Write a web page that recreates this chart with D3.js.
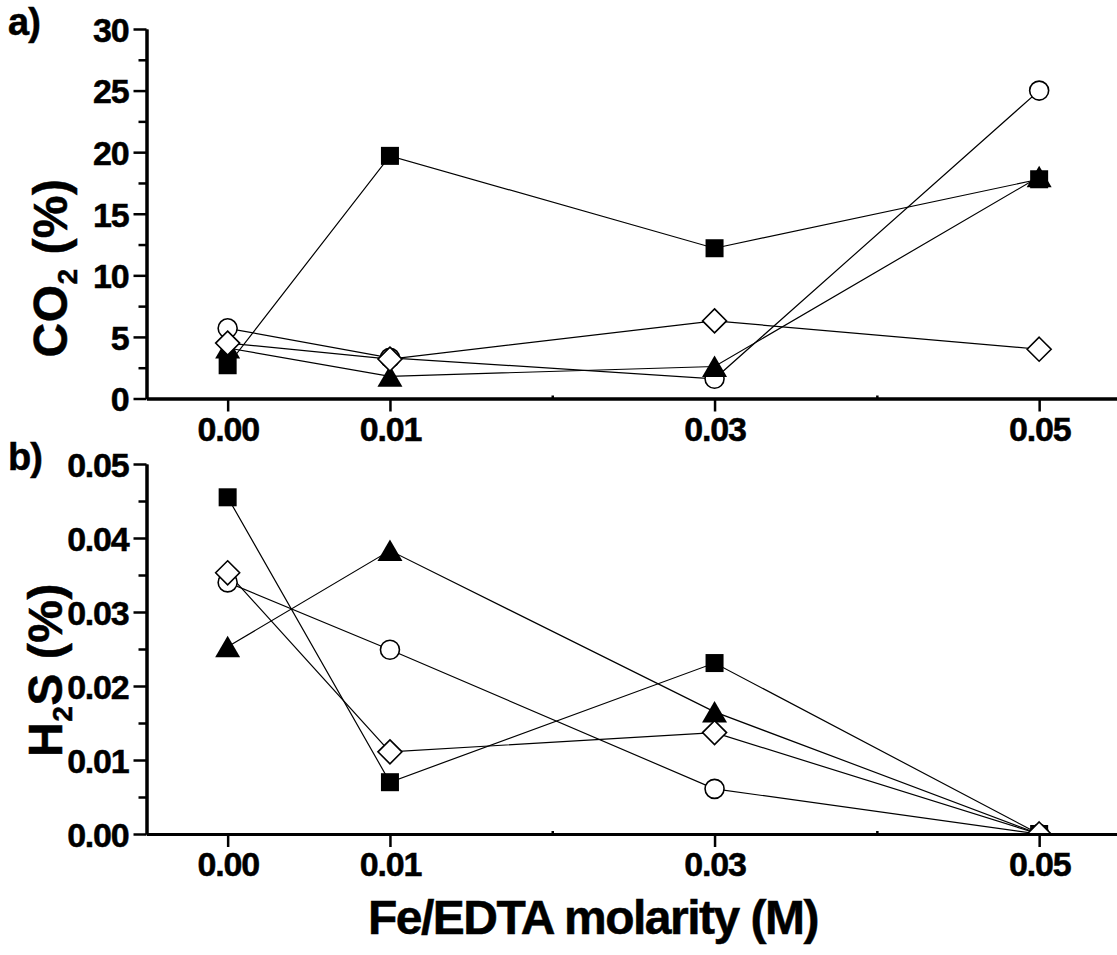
<!DOCTYPE html>
<html>
<head>
<meta charset="utf-8">
<script src="https://cdn.jsdelivr.net/npm/d3@7"></script>
<style>
body { margin: 0; background: #fff; }
text { font-family: "Liberation Sans", Arial, sans-serif; font-weight: bold; fill: #000; stroke: #000; stroke-width: 0.5px; }
</style>
</head>
<body>
<div id="chart-area"></div>
<script>
// x categories (Fe/EDTA molarity, M)
var molarity = [0.00, 0.01, 0.03, 0.05];
var xMinorTicks = [0.02, 0.04];

// panel a) CO2 (%)
var co2Square   = [2.7, 19.7, 12.2, 17.8];
var co2Circle   = [5.7, 3.3, 1.6, 25.0];
var co2Triangle = [4.1, 1.8, 2.6, 18.0];
var co2Diamond  = [4.5, 3.2, 6.3, 4.0];
var co2Ticks      = [0, 5, 10, 15, 20, 25, 30];
var co2MinorTicks = [2.5, 7.5, 12.5, 17.5, 22.5, 27.5];

// panel b) H2S (%)
var h2sSquare   = [0.0455, 0.0070, 0.0231, 0];
var h2sCircle   = [0.0340, 0.0249, 0.0061, 0];
var h2sTriangle = [0.0253, 0.0383, 0.0165, 0];
var h2sDiamond  = [0.0353, 0.0111, 0.0137, 0];
var h2sTicks      = [0, 0.01, 0.02, 0.03, 0.04, 0.05];
var h2sMinorTicks = [0.005, 0.015, 0.025, 0.035, 0.045];

var W = 1117, H = 955;
var left = 146.5;

var svg = d3.select("#chart-area")
			.append("svg")
				.attr("width", W)
				.attr("height", H);

var x = d3.scaleLinear()
			.domain([-0.005, 0.055])
			.range([left, left + 60 * 16.23]);

// symbol shapes
function drawMarker(g, shape, cx, cy) {
	if (shape == "square") {
		g.append("rect").attr("x", cx - 9).attr("y", cy - 9)
			.attr("width", 18).attr("height", 18).attr("fill", "#000");
	} else if (shape == "circle") {
		g.append("circle").attr("cx", cx).attr("cy", cy).attr("r", 9.5)
			.attr("fill", "#fff").attr("stroke", "#000").attr("stroke-width", 1.6);
	} else if (shape == "triangle") {
		g.append("path")
			.attr("d", "M" + cx + "," + (cy - 11) + "L" + (cx + 12.5) + "," + (cy + 10.5) +
					"L" + (cx - 12.5) + "," + (cy + 10.5) + "Z")
			.attr("fill", "#000");
	} else if (shape == "diamond") {
		g.append("path")
			.attr("d", "M" + cx + "," + (cy - 12) + "L" + (cx + 12) + "," + cy +
					"L" + cx + "," + (cy + 12) + "L" + (cx - 12) + "," + cy + "Z")
			.attr("fill", "#fff").attr("stroke", "#000").attr("stroke-width", 1.6);
	}
}

function panel(opts) {
	var y = d3.scaleLinear().domain(opts.domain).range([opts.bottom, opts.top]);
	var group = svg.append("g");

	group.append("clipPath").attr("id", opts.id)
		.append("rect")
			.attr("x", left).attr("y", opts.top - 20)
			.attr("width", W - left).attr("height", opts.bottom - opts.top + 20);

	var plot = group.append("g").attr("clip-path", "url(#" + opts.id + ")");

	var line = d3.line()
				.x(function(d, i){ return x(molarity[i]) })
				.y(function(d){ return y(d) });

	opts.series.forEach(function(s){
		plot.append("path")
			.attr("d", line(s.values))
			.attr("fill", "none")
			.attr("stroke", "#000")
			.attr("stroke-width", 1.2);
	});
	opts.series.forEach(function(s){
		s.values.forEach(function(v, i){
			drawMarker(plot, s.shape, x(molarity[i]), y(v));
		});
	});

	// y axis
	var yAxisCall = d3.axisLeft(y)
						.tickValues(opts.ticks)
						.tickSize(13)
						.tickSizeOuter(0)
						.tickPadding(5)
						.tickFormat(opts.format);
	var ya = group.append("g")
		.attr("transform", "translate(" + left + ",0)")
		.call(yAxisCall);
	ya.selectAll("text").attr("font-size", "34px").attr("letter-spacing", "-1.2px")
		.attr("font-family", null).attr("dy", "0.36em");
	group.append("g")
		.attr("transform", "translate(" + left + ",0)")
		.call(d3.axisLeft(y).tickValues(opts.minor).tickSize(8).tickSizeOuter(0).tickFormat(""));

	// x axis
	var xAxisCall = d3.axisBottom(x)
						.tickValues(molarity)
						.tickSize(13)
						.tickSizeOuter(0)
						.tickPadding(5)
						.tickFormat(d3.format(".2f"));
	var xa = group.append("g")
		.attr("transform", "translate(0," + opts.bottom + ")")
		.call(xAxisCall);
	xa.selectAll("text").attr("font-size", "34px").attr("letter-spacing", "-1.2px")
		.attr("font-family", null);
	group.append("g")
		.attr("transform", "translate(0," + opts.bottom + ")")
		.call(d3.axisTop(x).tickValues(xMinorTicks).tickSize(3).tickSizeOuter(0).tickFormat(""));

	group.selectAll(".domain").attr("stroke-width", 3);
	group.selectAll(".tick line").attr("stroke-width", 2.5);

	// panel letter
	group.append("text")
		.attr("x", 8)
		.attr("y", opts.letterY)
		.attr("font-size", "38px")
		.attr("letter-spacing", "-1px")
		.text(opts.letter);

	// y label
	var yl = group.append("text")
		.attr("transform", "translate(" + opts.labelX + "," + opts.labelY + ") rotate(-90)")
		.attr("text-anchor", "middle")
		.attr("font-size", "48px")
		.attr("letter-spacing", "0.5px");
	yl.append("tspan").text(opts.label[0]);
	yl.append("tspan").attr("font-size", "28px").attr("dy", "10").text(opts.label[1]);
	yl.append("tspan").attr("dy", "-10").text(opts.label[2]);
}

panel({
	id: "clipA", top: 29, bottom: 398.5, domain: [0, 30],
	ticks: co2Ticks, minor: co2MinorTicks, format: d3.format("d"),
	letter: "a)", letterY: 35, label: ["CO", "2", " (%)"], labelX: 67, labelY: 268,
	series: [
		{shape: "square", values: co2Square},
		{shape: "circle", values: co2Circle},
		{shape: "triangle", values: co2Triangle},
		{shape: "diamond", values: co2Diamond}
	]
});

panel({
	id: "clipB", top: 464, bottom: 834, domain: [0, 0.05],
	ticks: h2sTicks, minor: h2sMinorTicks, format: d3.format(".2f"),
	letter: "b)", letterY: 470, label: ["H", "2", "S (%)"], labelX: 62, labelY: 670,
	series: [
		{shape: "square", values: h2sSquare},
		{shape: "circle", values: h2sCircle},
		{shape: "triangle", values: h2sTriangle},
		{shape: "diamond", values: h2sDiamond}
	]
});

// x label
svg.append("text")
	.attr("x", 593)
	.attr("y", 934)
	.attr("font-size", "48px")
	.attr("letter-spacing", "-1.5px")
	.attr("text-anchor", "middle")
	.text("Fe/EDTA molarity (M)");
</script>
</body>
</html>
